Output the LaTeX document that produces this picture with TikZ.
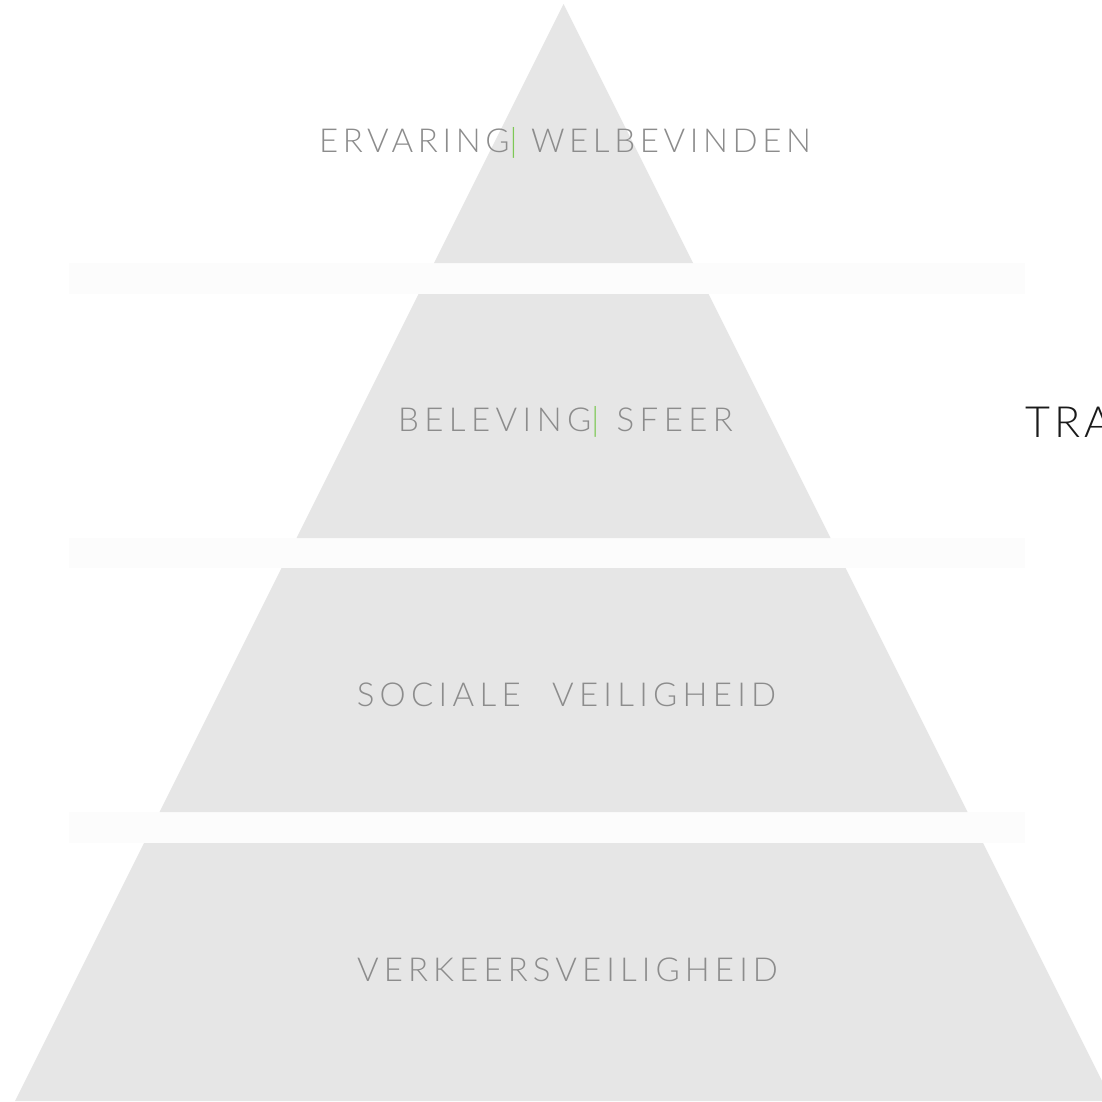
\documentclass[tikz,border=0pt]{standalone}
\usepackage{fontspec}
\setmainfont{Lato}
\newfontfamily\labelfont[LetterSpace=14]{Lato Light}
\newfontfamily\labelfontb[LetterSpace=16.5]{Lato Light}
\newfontfamily\labelfontc[LetterSpace=16]{Lato Light}
\newfontfamily\labelfontd[LetterSpace=15.5]{Lato Light}
\newfontfamily\sidefont[LetterSpace=10]{Lato Light}
\definecolor{tierfill}{HTML}{E6E6E6}
\definecolor{stripfill}{HTML}{FCFCFC}
\definecolor{labelgray}{HTML}{8C8C8C}
\definecolor{accent}{HTML}{7DC855}
\definecolor{sidetext}{HTML}{1A1A1A}
\tikzset{
  tier/.style={fill=tierfill, draw=none},
  strip/.style={fill=stripfill, draw=none},
  tierlabel/.style={text=labelgray, inner sep=0pt, anchor=center},
}
\begin{document}
\begin{tikzpicture}[x=1pt,y=-1pt]
\useasboundingbox (0,0) rectangle (1102,1101);
\fill[white] (0,0) rectangle (1102,1101);
% faint strips in the gaps
\fill[strip] (69,263) rectangle (1025,294);
\fill[strip] (69,538) rectangle (1025,568);
\fill[strip] (69,812) rectangle (1025,843);
% tiers
\fill[tier] (563.5,4) -- (693,263) -- (434,263) -- cycle;
\fill[tier] (418.5,294) -- (708.5,294) -- (830.5,538) -- (296.5,538) -- cycle;
\fill[tier] (281.5,568) -- (845.5,568) -- (967.5,812) -- (159.5,812) -- cycle;
\fill[tier] (144,843) -- (983,843) -- (1112,1101) -- (15,1101) -- cycle;
% labels
\node[tierlabel, font=\labelfont\fontsize{33}{36}\selectfont] (l1) at (565,143) {ERVARING{\color{accent}|} WELBEVINDEN};
\node[tierlabel, font=\labelfontb\fontsize{33}{36}\selectfont] (l2) at (565.5,422) {BELEVING{\color{accent}|}\hspace{3pt} SFEER};
\node[tierlabel, font=\labelfontc\fontsize{33}{36}\selectfont] (l3) at (566.5,695) {SOCIALE\ \ \hspace{3pt}VEILIGHEID};
\node[tierlabel, font=\labelfontd\fontsize{33}{36}\selectfont] (l4) at (567.5,970) {VERKEERSVEILIGHEID};
\node[text=sidetext, font=\sidefont\fontsize{43}{48}\selectfont, inner sep=0pt, anchor=west] (side) at (1025,422) {TRA};
\end{tikzpicture}
\end{document}
